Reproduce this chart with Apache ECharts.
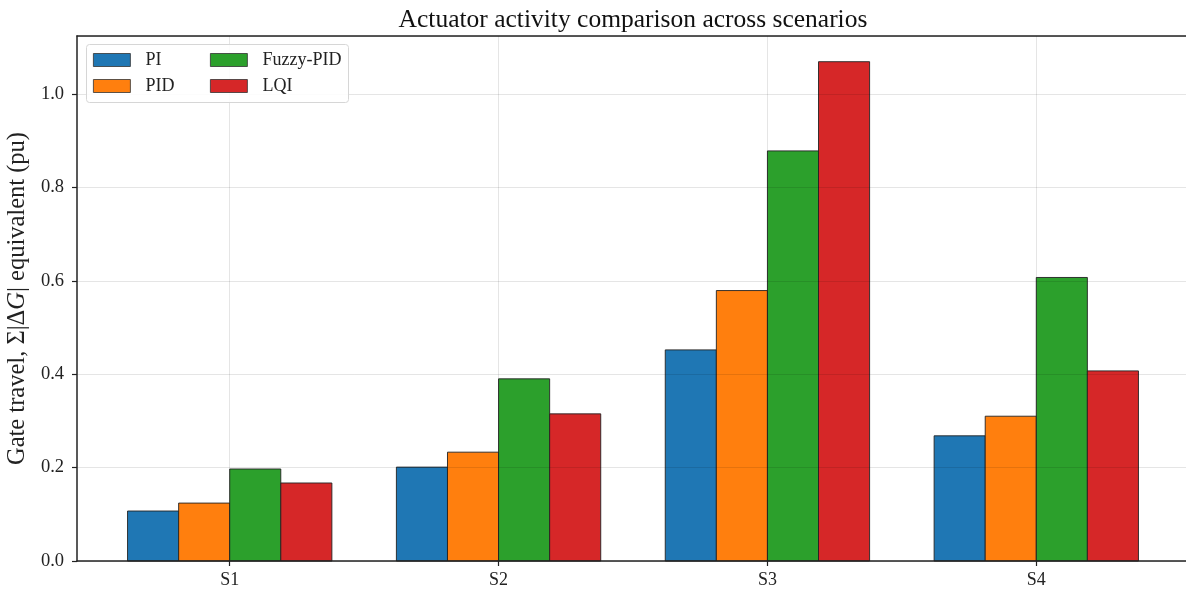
<!DOCTYPE html>
<html>
<head>
<meta charset="utf-8">
<script src="https://cdn.jsdelivr.net/npm/echarts@6/dist/echarts.min.js"></script>
<style>html,body{margin:0;padding:0;background:#fff}#c{width:1186px;height:592px}</style>
</head>
<body>
<div id="c"></div>
<script>
const categories = ['S1', 'S2', 'S3', 'S4'];
const seriesNames = ['PI', 'PID', 'Fuzzy-PID', 'LQI'];
const PI = [0.107, 0.201, 0.452, 0.268];
const PID = [0.124, 0.233, 0.579, 0.310];
const FuzzyPID = [0.197, 0.390, 0.878, 0.607];
const LQI = [0.167, 0.315, 1.069, 0.407];
const yTicks = [0, 0.2, 0.4, 0.6, 0.8, 1.0];
const colors = ['#1f77b4', '#ff7f0e', '#2ca02c', '#d62728'];

const allData = [PI, PID, FuzzyPID, LQI];
const barW = 0.19;
const FONT = '"Liberation Serif", "DejaVu Serif", serif';

function makeSeries(idx) {
  const off = (idx - 1.5) * barW;
  return {
    type: 'custom',
    name: seriesNames[idx],
    z: 2,
    itemStyle: { color: colors[idx], borderColor: '#222', borderWidth: 1 },
    data: allData[idx].map((v, i) => [i, v]),
    encode: { x: 0, y: 1 },
    renderItem: function (params, api) {
      const x = api.value(0), y = api.value(1);
      const p1 = api.coord([x + off - barW / 2, y]);
      const p2 = api.coord([x + off + barW / 2, 0]);
      return {
        type: 'rect',
        shape: { x: p1[0], y: p1[1], width: p2[0] - p1[0], height: p2[1] - p1[1] },
        style: { fill: colors[idx], stroke: '#222', lineWidth: 0.9 }
      };
    }
  };
}

const chart = echarts.init(document.getElementById('c'), null, { renderer: 'canvas' });
const legendCommon = {
  orient: 'vertical',
  top: 51,
  z: 60,
  itemWidth: 37,
  itemHeight: 13,
  itemGap: 8,
  icon: 'rect',
  itemStyle: { borderColor: '#333', borderWidth: 0.8 },
  textStyle: { fontFamily: FONT, fontSize: 18, color: '#222', padding: [0, 0, 0, 10] },
  padding: 0,
  selectedMode: false
};
chart.setOption({
  animation: false,
  title: {
    text: 'Actuator activity comparison across scenarios',
    left: 628, top: 2, textAlign: 'center',
    textStyle: { fontFamily: FONT, fontSize: 25.5, fontWeight: 'normal', color: '#111' }
  },
  legend: [
    Object.assign({}, legendCommon, { left: 93, data: ['PI', 'PID'] }),
    Object.assign({}, legendCommon, { left: 210, data: ['Fuzzy-PID', 'LQI'] })
  ],
  graphic: [{
    type: 'rect', z: 20, silent: true,
    shape: { x: 86.5, y: 44.5, width: 262, height: 58, r: 3 },
    style: { fill: 'rgba(255,255,255,0.85)', stroke: '#d6d6d6', lineWidth: 1 }
  }],
  grid: {
    left: 77, width: 1112, top: 36, bottom: 31,
    outerBoundsMode: 'none',
    show: false
  },
  xAxis: [{
    type: 'value', min: -0.568, max: 3.568, z: 3,
    axisLine: { show: true, onZero: false, lineStyle: { color: '#222', width: 1.5 } },
    axisTick: { show: true, customValues: [0, 1, 2, 3], length: 5, lineStyle: { color: '#222', width: 1.2 } },
    axisLabel: {
      customValues: [0, 1, 2, 3],
      formatter: v => categories[Math.round(v)],
      fontFamily: FONT, fontSize: 18, color: '#222', margin: 10
    },
    splitLine: { show: true, lineStyle: { color: 'rgba(0,0,0,0.1)', width: 1 } }
  }, {
    type: 'value', position: 'top', min: -0.568, max: 3.568, z: 3,
    axisLine: { show: true, onZero: false, lineStyle: { color: '#222', width: 1.5 } },
    axisTick: { show: false }, axisLabel: { show: false }, splitLine: { show: false }
  }],
  yAxis: {
    type: 'value', min: 0, max: 1.124, interval: 0.2, z: 3,
    name: 'Gate travel, Σ|Δ{i|G}| equivalent (pu)',
    nameLocation: 'middle', nameGap: 37, nameRotate: 90,
    nameTextStyle: { fontFamily: FONT, fontSize: 24.5, color: '#222',
      rich: { i: { fontFamily: FONT, fontSize: 24.5, fontStyle: 'italic', color: '#222' } } },
    axisLine: { show: true, onZero: false, lineStyle: { color: '#222', width: 1.5 } },
    axisTick: { show: true, length: 5, lineStyle: { color: '#222', width: 1.2 } },
    axisLabel: {
      showMaxLabel: false,
      formatter: v => (yTicks.some(t => Math.abs(t - v) < 1e-6) ? v.toFixed(1) : ''),
      fontFamily: FONT, fontSize: 18.5, color: '#222', margin: 13
    },
    splitLine: { show: true, lineStyle: { color: 'rgba(0,0,0,0.1)', width: 1 } }
  },
  series: [0, 1, 2, 3].map(makeSeries)
});
</script>
</body>
</html>
